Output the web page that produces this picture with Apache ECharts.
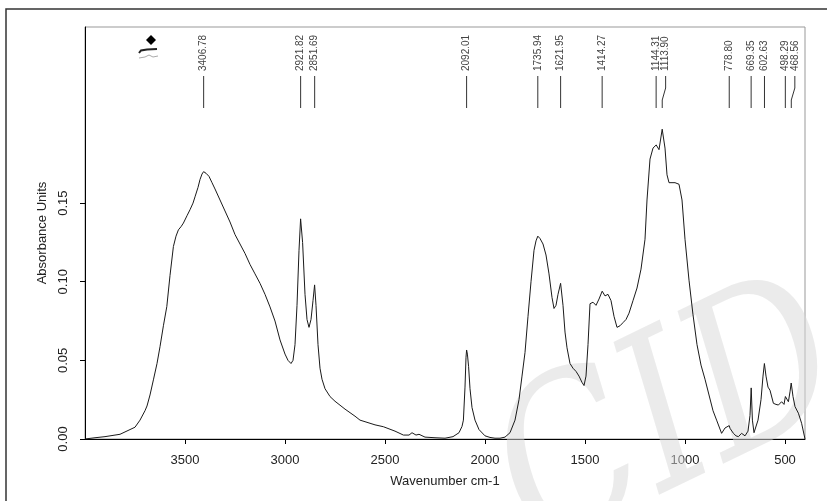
<!DOCTYPE html>
<html><head><meta charset="utf-8">
<script src="https://cdn.jsdelivr.net/npm/echarts@6/dist/echarts.min.js"></script>
<style>html,body{margin:0;padding:0;background:#fff}#c{width:827px;height:501px}</style>
</head><body><div id="c"></div>
<script>
// Wavenumber (cm-1) and absorbance
const wavenumbers = [4000,3950,3900,3850,3825,3800,3775,3750,3725,3700,3690,3675,3658,3640,3625,3608,3591,3575,3558,3545,3533,3520,3508,3490,3475,3460,3450,3435,3425,3415,3407,3395,3380,3365,3350,3325,3300,3275,3250,3225,3200,3175,3150,3125,3100,3075,3050,3025,3000,2985,2970,2960,2950,2940,2930,2922,2912,2900,2890,2880,2870,2860,2852,2845,2835,2825,2815,2800,2775,2750,2700,2650,2625,2600,2550,2508,2450,2408,2380,2365,2358,2345,2330,2300,2250,2200,2160,2130,2115,2108,2100,2095,2092,2088,2082,2075,2065,2050,2030,2000,1975,1950,1925,1900,1875,1850,1830,1815,1800,1785,1770,1755,1745,1736,1725,1710,1695,1680,1665,1655,1645,1635,1622,1610,1600,1590,1575,1560,1545,1530,1515,1505,1495,1485,1475,1460,1445,1430,1414,1400,1385,1370,1355,1340,1325,1310,1295,1280,1260,1240,1220,1200,1190,1175,1160,1144,1130,1114,1100,1090,1080,1050,1030,1015,1000,980,960,940,920,900,880,860,842,817,800,790,779,775,758,745,733,717,700,685,675,669,663,655,645,635,620,610,603,595,585,575,558,545,533,517,505,498,483,475,469,460,450,433,417,400];
const absorbance = [0.0000,0.0008,0.0015,0.0025,0.0030,0.0045,0.0060,0.0075,0.0120,0.0180,0.0210,0.0280,0.0376,0.0480,0.0587,0.0720,0.0842,0.1040,0.1224,0.1290,0.1330,0.1350,0.1373,0.1420,0.1458,0.1500,0.1540,0.1600,0.1650,0.1685,0.1700,0.1690,0.1670,0.1630,0.1590,0.1520,0.1450,0.1380,0.1300,0.1240,0.1180,0.1110,0.1050,0.0990,0.0920,0.0840,0.0750,0.0630,0.0540,0.0500,0.0480,0.0500,0.0600,0.0850,0.1200,0.1400,0.1250,0.0920,0.0760,0.0710,0.0760,0.0880,0.0980,0.0850,0.0600,0.0450,0.0380,0.0320,0.0270,0.0240,0.0190,0.0145,0.0120,0.0110,0.0090,0.0078,0.0050,0.0025,0.0025,0.0040,0.0035,0.0025,0.0030,0.0012,0.0008,0.0005,0.0015,0.0040,0.0080,0.0120,0.0330,0.0520,0.0566,0.0540,0.0460,0.0320,0.0200,0.0120,0.0060,0.0020,0.0010,0.0005,0.0005,0.0012,0.0040,0.0120,0.0250,0.0400,0.0550,0.0780,0.1000,0.1200,0.1260,0.1290,0.1275,0.1240,0.1170,0.1050,0.0900,0.0830,0.0850,0.0920,0.0990,0.0850,0.0680,0.0580,0.0480,0.0450,0.0430,0.0400,0.0360,0.0340,0.0400,0.0600,0.0860,0.0870,0.0850,0.0890,0.0940,0.0910,0.0920,0.0880,0.0780,0.0710,0.0720,0.0740,0.0760,0.0800,0.0880,0.0960,0.1080,0.1270,0.1520,0.1780,0.1850,0.1870,0.1840,0.1970,0.1850,0.1680,0.1630,0.1630,0.1620,0.1520,0.1270,0.1010,0.0790,0.0600,0.0470,0.0380,0.0280,0.0180,0.0120,0.0036,0.0070,0.0060,0.0085,0.0068,0.0036,0.0020,0.0015,0.0036,0.0020,0.0050,0.0150,0.0325,0.0120,0.0040,0.0050,0.0120,0.0250,0.0400,0.0480,0.0400,0.0330,0.0310,0.0227,0.0220,0.0216,0.0237,0.0220,0.0270,0.0237,0.0300,0.0356,0.0270,0.0206,0.0164,0.0100,0.0000];
const peakLabels = ['3406.78','2921.82','2851.69','2092.01','1735.94','1621.95','1414.27','1144.31','1113.90','778.80','669.35','602.63','498.29','468.56'];
const xTicks = [3500,3000,2500,2000,1500,1000,500];
const yTicks = [0,0.05,0.10,0.15];
const xLabel = 'Wavenumber cm-1';
const yLabel = 'Absorbance Units';

const FONT = '"Liberation Sans", Arial, sans-serif';
const peakVals = peakLabels.map(Number);
const spectrum = wavenumbers.map((w, i) => [w, absorbance[i]]);

function renderPeak(params, api) {
  const i = params.dataIndex;
  let prev = -Infinity, lx = 0, px = 0;
  for (let j = 0; j <= i; j++) {
    const x = api.coord([peakVals[j], 0])[0];
    const l = Math.max(x, prev + 9.5);
    prev = l;
    if (j === i) { lx = l; px = x; }
  }
  const pts = (Math.abs(lx - px) < 0.5)
    ? [[px, 76], [px, 108]]
    : [[lx, 76], [lx, 88], [px, 100], [px, 108]];
  return {
    type: 'group',
    children: [
      { type: 'polyline', shape: { points: pts }, style: { stroke: '#333', lineWidth: 1, fill: null } },
      { type: 'text', x: lx, y: 71, rotation: Math.PI / 2,
        style: { text: peakLabels[i], font: '10px ' + FONT, fill: '#444', align: 'left', verticalAlign: 'middle' } }
    ]
  };
}

const chart = echarts.init(document.getElementById('c'), null, { renderer: 'canvas' });
chart.setOption({
  animation: false,
  backgroundColor: '#fff',
  grid: { left: 85, right: 22, top: 27, bottom: 62, show: true, borderColor: '#999', borderWidth: 1, backgroundColor: 'transparent' },
  xAxis: {
    type: 'value', min: 400, max: 4000, inverse: true,
    splitLine: { show: false },
    axisLine: { show: true, onZero: false, lineStyle: { color: '#000', width: 1 } },
    axisTick: { show: true, length: 5, customValues: xTicks, lineStyle: { color: '#000' } },
    axisLabel: { customValues: xTicks, margin: 15, fontSize: 13, color: '#222', fontFamily: FONT,
      formatter: v => String(v) },
    name: xLabel, nameLocation: 'middle', nameGap: 36,
    nameTextStyle: { fontSize: 13, color: '#222', fontFamily: FONT }
  },
  yAxis: {
    type: 'value', min: 0, max: 0.262,
    splitLine: { show: false },
    axisLine: { show: true, lineStyle: { color: '#000', width: 1 } },
    axisTick: { show: true, length: 5, customValues: yTicks, lineStyle: { color: '#000' } },
    axisLabel: { customValues: yTicks, rotate: 90, margin: 15, fontSize: 13, color: '#222', fontFamily: FONT,
      formatter: v => v.toFixed(2) },
    name: yLabel, nameLocation: 'middle', nameGap: 36,
    nameTextStyle: { fontSize: 13, color: '#222', fontFamily: FONT }
  },
  graphic: [
    { type: 'rect', shape: { x: 6, y: 9, width: 900, height: 600 }, style: { fill: null, stroke: '#333', lineWidth: 1.5 }, silent: true },
    { type: 'polygon', shape: { points: [[151, 35], [156, 40], [151, 45], [146, 40]] }, style: { fill: '#000' } },
    { type: 'polyline', shape: { points: [[139, 53], [141, 50.5], [147, 49.5], [157, 49]] }, style: { stroke: '#222', lineWidth: 2, fill: null } },
    { type: 'polyline', shape: { points: [[139, 58], [145, 57], [149, 55], [153, 57], [158, 56]] }, style: { stroke: '#aaa', lineWidth: 1, fill: null } },
    { type: 'text', x: 560, y: 600, z: 1, rotation: 0.45, scaleY: 1.2,
      style: { text: 'CID', fontStyle: 'italic', fontSize: 180, fontFamily: '"DejaVu Serif", "Liberation Serif", serif',
        fill: 'rgba(215,215,215,0.5)', verticalAlign: 'bottom' } }
  ],
  series: [
    { type: 'line', data: spectrum, showSymbol: false, symbol: 'none', z: 3,
      lineStyle: { color: '#1a1a1a', width: 1 } },
    { type: 'custom', data: peakVals.map(v => [v, 0]), renderItem: renderPeak, clip: false, silent: true }
  ]
});
</script></body></html>
